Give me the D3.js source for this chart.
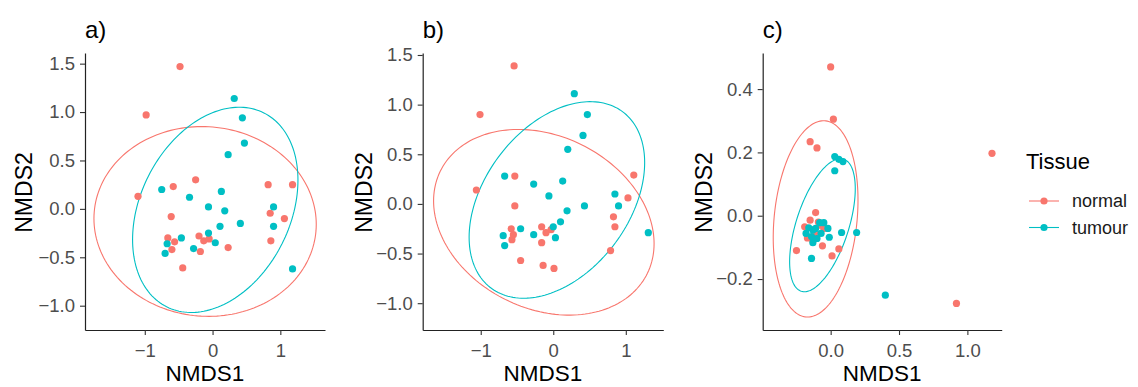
<!DOCTYPE html>
<html><head><meta charset="utf-8">
<script src="https://cdn.jsdelivr.net/npm/d3@7"></script>
<style>body{margin:0;background:#fff}svg{display:block}text{font-family:Arial,"Liberation Sans",sans-serif}</style>
</head><body><svg id="c" width="1138" height="387"></svg>
<script>
// ---- data ----
const groups = ["normal", "tumour"];
const colors = ["#F8766D", "#00BFC4"];
const panelLabels = ["a)", "b)", "c)"];
const xTicksA = [-1, 0, 1], yTicksA = [-1.0, -0.5, 0.0, 0.5, 1.0, 1.5];
const xTicksB = [-1, 0, 1], yTicksB = [-1.0, -0.5, 0.0, 0.5, 1.0, 1.5];
const xTicksC = [0.0, 0.5, 1.0], yTicksC = [-0.2, 0.0, 0.2, 0.4];

const aNormX = [-0.48,-0.98,-1.10,-0.58,-0.25,0.82,1.18,-0.61,0.85,1.06,0.86,-0.66,-0.56,-0.60,-0.20,-0.13,-0.05,-0.18,0.23,-0.44];
const aNormY = [1.47,0.97,0.13,0.23,0.30,0.25,0.25,-0.08,-0.045,-0.10,-0.33,-0.30,-0.34,-0.42,-0.28,-0.33,-0.31,-0.44,-0.40,-0.61];
const aTumX = [0.32,0.44,0.47,0.23,-0.75,-0.34,0.13,-0.06,0.18,0.11,0.41,0.90,0.90,-0.46,-0.67,-0.70,-0.28,-0.06,0.04,1.18];
const aTumY = [1.14,0.94,0.68,0.56,0.20,0.12,0.18,0.02,-0.02,-0.18,-0.15,0.02,-0.18,-0.30,-0.36,-0.46,-0.41,-0.25,-0.35,-0.62];

const bNormX = [-0.54,-1.01,-0.53,-1.06,1.11,1.03,-0.53,0.83,0.85,-0.58,-0.55,-0.57,-0.16,-0.10,-0.16,0.79,-0.45,-0.14,0.01,-0.03];
const bNormY = [1.39,0.90,0.28,0.14,0.29,0.06,-0.02,-0.13,-0.23,-0.25,-0.31,-0.36,-0.23,-0.29,-0.39,-0.47,-0.57,-0.62,-0.65,-0.26];
const bTumX = [0.29,0.47,0.41,0.20,-0.67,-0.27,0.13,-0.06,0.43,0.19,0.10,0.85,0.90,1.31,-0.45,-0.69,-0.67,-0.27,0.00,0.03];
const bTumY = [1.11,0.90,0.69,0.55,0.28,0.20,0.23,0.08,-0.02,-0.07,-0.18,0.10,-0.02,-0.29,-0.25,-0.32,-0.42,-0.31,-0.23,-0.34];

const cNormX = [0.00,0.02,-0.15,-0.10,-0.25,-0.06,0.01,0.06,-0.11,-0.15,-0.19,-0.17,0.92,1.18,-0.12,-0.10,-0.08,-0.13,-0.05,-0.09];
const cNormY = [0.47,0.305,0.234,0.214,-0.11,-0.095,-0.127,-0.105,0.01,-0.014,-0.035,-0.07,-0.277,0.197,-0.05,-0.06,-0.03,-0.08,-0.04,-0.02];
const cTumX = [0.03,0.09,0.06,0.03,0.40,0.19,0.08,-0.14,-0.18,-0.14,-0.13,-0.08,-0.05,-0.02,-0.01,-0.07,-0.13,-0.11,-0.16,-0.10];
const cTumY = [0.187,0.171,0.178,0.142,-0.251,-0.053,-0.053,-0.135,-0.056,-0.066,-0.045,-0.022,-0.022,-0.04,-0.068,-0.056,-0.085,-0.04,-0.038,-0.072];

// ellipse params: [centerX, centerY, halfRangeX, halfRangeY, correlation]
const aEllNorm = [-0.11, -0.13, 1.64, 0.98, -0.03];
const aEllTum  = [0.04, -0.01, 1.22, 1.06, 0.29];
const bEllNorm = [-0.13, -0.185, 1.52, 0.935, -0.23];
const bEllTum  = [0.05, 0.04, 1.21, 0.99, 0.38];
const cEllNorm = [-0.11, -0.01, 0.31, 0.31, 0.19];
const cEllTum  = [-0.06, -0.03, 0.24, 0.21, 0.55];

// ---- layout ----
const panels = [
  {label: panelLabels[0], x0: 85, x1: 325, y0: 53, y1: 330, xd: [-1.882, 1.659], yd: [-1.251, 1.61],
   xt: xTicksA, yt: yTicksA, xf: d3.format("d"), yf: d3.format(".1f"),
   pts: [[aNormX, aNormY], [aTumX, aTumY]], ell: [aEllNorm, aEllTum], ytx: 32},
  {label: panelLabels[1], x0: 422.7, x1: 663.3, y0: 53, y1: 330, xd: [-1.80, 1.517], yd: [-1.27, 1.52],
   xt: xTicksB, yt: yTicksB, xf: d3.format("d"), yf: d3.format(".1f"),
   pts: [[bNormX, bNormY], [bTumX, bTumY]], ell: [bEllNorm, bEllTum], ytx: 372},
  {label: panelLabels[2], x0: 762.7, x1: 1001.7, y0: 53, y1: 330, xd: [-0.497, 1.251], yd: [-0.361, 0.514],
   xt: xTicksC, yt: yTicksC, xf: d3.format(".1f"), yf: d3.format(".1f"),
   pts: [[cNormX, cNormY], [cTumX, cTumY]], ell: [cEllNorm, cEllTum], ytx: 712}
];

const svg = d3.select("#c");
const line = d3.line();

panels.forEach(p => {
  const x = d3.scaleLinear().domain(p.xd).range([p.x0, p.x1]);
  const y = d3.scaleLinear().domain(p.yd).range([p.y1, p.y0]);
  const g = svg.append("g");

  // ellipses
  p.ell.forEach((e, gi) => {
    const [cx, cy, A, B, rho] = e;
    const phi = Math.acos(rho);
    const ts = d3.range(0, 2 * Math.PI + 0.001, Math.PI / 90);
    const pts = ts.map(t => [x(cx + A * Math.cos(t)), y(cy + B * Math.cos(t - phi))]);
    g.append("path").attr("d", line(pts) + "Z").attr("fill", "none")
      .attr("stroke", colors[gi]).attr("stroke-width", 1.1);
  });

  // points
  p.pts.forEach((s, gi) => {
    g.selectAll(null).data(d3.range(s[0].length)).enter().append("circle")
      .attr("cx", i => x(s[0][i])).attr("cy", i => y(s[1][i])).attr("r", 3.6)
      .attr("fill", colors[gi]);
  });

  // axes
  const xa = g.append("g").attr("transform", `translate(0,${p.y1})`)
    .call(d3.axisBottom(x).tickValues(p.xt).tickFormat(p.xf).tickSize(5).tickSizeOuter(0));
  const ya = g.append("g").attr("transform", `translate(${p.x0},0)`)
    .call(d3.axisLeft(y).tickValues(p.yt).tickFormat(p.yf).tickSize(5).tickSizeOuter(0));
  [xa, ya].forEach(a => {
    a.select(".domain").attr("stroke", "#222").attr("stroke-width", 1.2);
    a.selectAll(".tick line").attr("stroke", "#333").attr("stroke-width", 1.1);
    a.selectAll(".tick text").attr("fill", "#4d4d4d").style("font-size", "18.5px")
      .style("font-family", "Arial, 'Liberation Sans', sans-serif");
  });
  xa.selectAll(".tick text").attr("y", 0).attr("dy", 0)
    .attr("transform", "translate(0,27)");
  ya.selectAll(".tick text").attr("x", -10);

  // titles
  g.append("text").attr("x", (p.x0 + p.x1) / 2).attr("y", 381).attr("text-anchor", "middle")
    .style("font-size", "22.5px").attr("fill", "#000").text("NMDS1");
  g.append("text").attr("transform", `translate(${p.ytx},${(p.y0 + p.y1) / 2 + 1}) rotate(-90)`)
    .attr("text-anchor", "middle").style("font-size", "23px").attr("fill", "#000").text("NMDS2");
  g.append("text").attr("x", p.x0).attr("y", 38).style("font-size", "24px")
    .attr("fill", "#000").text(p.label);
});

// legend
const lg = svg.append("g");
lg.append("text").attr("x", 1026).attr("y", 169).style("font-size", "22px").attr("fill", "#000").text("Tissue");
groups.forEach((gname, i) => {
  const yy = 201 + i * 26.5;
  lg.append("line").attr("x1", 1029).attr("x2", 1059).attr("y1", yy).attr("y2", yy)
    .attr("stroke", colors[i]).attr("stroke-width", 1.1);
  lg.append("circle").attr("cx", 1044).attr("cy", yy).attr("r", 3.6).attr("fill", colors[i]);
  lg.append("text").attr("x", 1072).attr("y", yy + 6).style("font-size", "18px").attr("fill", "#1a1a1a").text(gname);
});
</script></body></html>
